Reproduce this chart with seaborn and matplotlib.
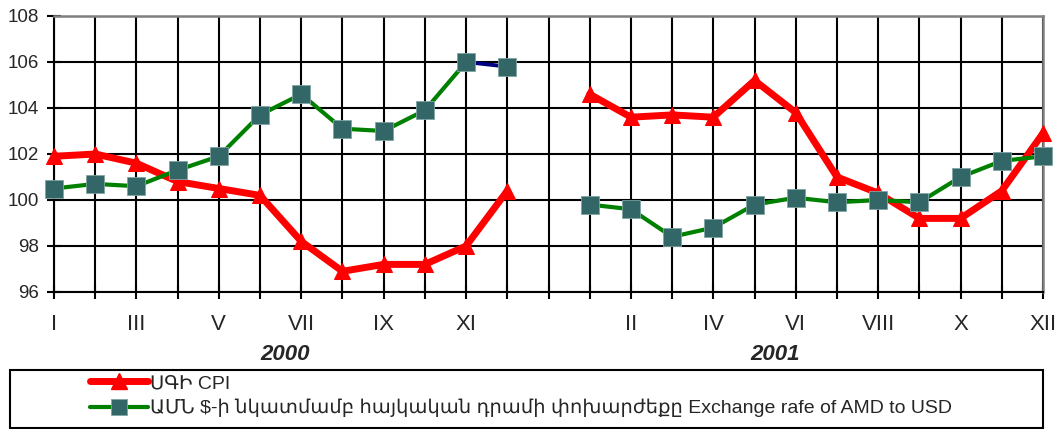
import numpy as np
import pandas as pd
import seaborn as sns
import matplotlib
matplotlib.use("Agg")
from matplotlib import pyplot as plt
from matplotlib.lines import Line2D
from matplotlib.patches import Rectangle

# month labels, every second one is shown on the axis
labels_2000 = ["I", "", "III", "", "V", "", "VII", "", "IX", "", "XI", ""]
labels_2001 = ["", "II", "", "IV", "", "VI", "", "VIII", "", "X", "", "XII"]

cpi_2000 = [101.9, 102.0, 101.6, 100.8, 100.5, 100.2, 98.2, 96.9, 97.2, 97.2, 98.0, 100.4]
cpi_2001 = [104.6, 103.6, 103.7, 103.6, 105.2, 103.8, 101.0, 100.3, 99.2, 99.2, 100.4, 102.9]
fx_2000 = [100.5, 100.7, 100.6, 101.3, 101.9, 103.7, 104.6, 103.1, 103.0, 103.9, 106.0, 105.8]
fx_2001 = [99.8, 99.6, 98.4, 98.8, 99.8, 100.1, 99.9, 100.0, 99.9, 101.0, 101.7, 101.9]

cpi_label = "ՍԳԻ CPI"
fx_label = "ԱՄՆ $-ի նկատմամբ հայկական դրամի փոխարժեքը Exchange rafe of AMD to USD"

# one empty category between the two years
pos_2000 = np.arange(12)
pos_2001 = np.arange(13, 25)
tick_labels = labels_2000 + [""] + labels_2001

sns.set_style("white")
plt.rcParams["font.family"] = ["Liberation Sans", "DejaVu Sans"]

RED = "#ff0000"
GREEN = "#008000"
SQ = "#336666"

fig = plt.figure(figsize=(10.59, 4.29), dpi=100)
ax = fig.add_axes([54 / 1059, 1 - 292 / 429, (1043 - 54) / 1059, 276 / 429])

# CPI
for pos, vals in [(pos_2000, cpi_2000), (pos_2001, cpi_2001)]:
    sns.lineplot(x=pos, y=vals, ax=ax, color=RED, lw=5, marker="^", markersize=12,
                 markeredgecolor=RED, zorder=3, clip_on=False)

# exchange rate (last step of 2000 is drawn in navy in the original)
sns.lineplot(x=pos_2000[:11], y=fx_2000[:11], ax=ax, color=GREEN, lw=3, zorder=4, clip_on=False)
sns.lineplot(x=pos_2000[10:], y=fx_2000[10:], ax=ax, color="#000080", lw=2.8, zorder=4)
sns.lineplot(x=pos_2001, y=fx_2001, ax=ax, color=GREEN, lw=3, zorder=4, clip_on=False)
for pos, vals in [(pos_2000, fx_2000), (pos_2001, fx_2001)]:
    sns.scatterplot(x=pos, y=vals, ax=ax, marker="s", s=13 ** 2, color=SQ,
                    edgecolor="#7fa5a5", linewidth=0.6, zorder=5, clip_on=False)

ax.set_xlim(0, 24)
ax.set_ylim(96, 108)
ax.set_yticks(np.arange(96, 109, 2))
ax.set_xticks(np.arange(25))
ax.set_xticklabels(tick_labels)
ax.grid(True, color="black", lw=1.5)
ax.set_axisbelow(True)
ax.tick_params(axis="both", direction="inout", length=9.5, width=1.5, color="black",
               bottom=True, left=True)
ax.tick_params(axis="y", labelsize=13.5, pad=6)
ax.tick_params(axis="x", labelsize=16, pad=11)
for side in ["left", "bottom"]:
    ax.spines[side].set_color("black")
    ax.spines[side].set_linewidth(1.5)
for side in ["top", "right"]:
    ax.spines[side].set_color("#808080")
    ax.spines[side].set_linewidth(1.8)
ax.set_xlabel("")
ax.set_ylabel("")

ax.text(5.6, -0.228, "2000", transform=ax.get_xaxis_transform(), ha="center", va="center",
        fontsize=16, fontstyle="italic", fontweight="bold")
ax.text(17.5, -0.228, "2001", transform=ax.get_xaxis_transform(), ha="center", va="center",
        fontsize=16, fontstyle="italic", fontweight="bold")

# legend box under the chart
fig.patches.append(Rectangle((10 / 1059, 1 / 429), 1033 / 1059, 58 / 429, transform=fig.transFigure,
                             fill=False, edgecolor="black", lw=1.5))
handles = [
    Line2D([], [], color=RED, lw=5, marker="^", markersize=12, markeredgecolor=RED),
    Line2D([], [], color=GREEN, lw=3, marker="s", markersize=12, markerfacecolor=SQ,
           markeredgecolor="#7fa5a5", markeredgewidth=0.6),
]
fig.legend(handles, [cpi_label, fx_label], loc="center left", bbox_to_anchor=(90 / 1059, 1 - 396 / 429),
           frameon=False, fontsize=14, handlelength=3.0, handletextpad=0.1, borderpad=0,
           borderaxespad=0, labelspacing=0.35)

fig.savefig("out.png", dpi=100)
